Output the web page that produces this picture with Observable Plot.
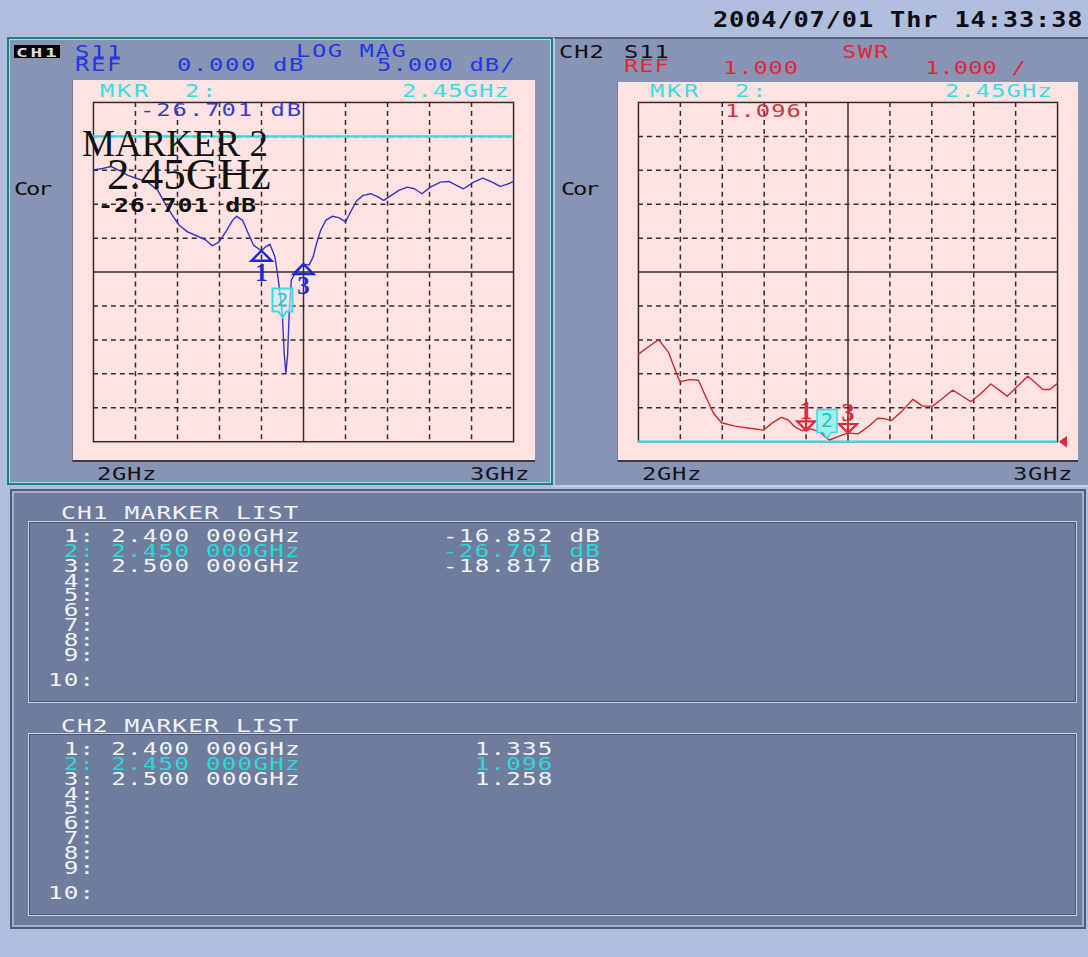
<!DOCTYPE html>
<html><head><meta charset="utf-8">
<script src="https://cdn.jsdelivr.net/npm/d3@7"></script>
<script src="https://cdn.jsdelivr.net/npm/@observablehq/plot@0.6"></script>
<style>
html,body{margin:0;padding:0}
body{width:1088px;height:957px;position:relative;overflow:hidden;background:#b0bede;font-family:"DejaVu Sans Mono",monospace}
.t{position:absolute;white-space:pre;transform-origin:0 0}
.b{position:absolute;box-sizing:border-box}
</style></head><body>
<script>
// ---------- DATA ----------
const timeStamp = "2004/07/01 Thr 14:33:38";
const startLabel = "2GHz", stopLabel = "3GHz";
const markerIds = [1, 2, 3];
const activeMarker = 2;
const markerFreq = [2.40, 2.45, 2.50];
const markerFreqText = ["2.400 000GHz", "2.450 000GHz", "2.500 000GHz"];
const ch1MarkerDb = [-16.852, -26.701, -18.817];
const ch2MarkerSwr = [1.335, 1.096, 1.258];

const gridFreq = [2.0, 2.1, 2.2, 2.3, 2.4, 2.5, 2.6, 2.7, 2.8, 2.9, 3.0];
const ch1GridDb = [5, 0, -5, -10, -15, -20, -25, -30, -35, -40, -45];
const ch2GridSwr = [1, 2, 3, 4, 5, 6, 7, 8, 9, 10, 11];
const ch1RefDb = 0;
const ch2RefSwr = 1;

const ch1Header = {ch: "CH1", param: "S11", format: "LOG MAG", ref: "REF", refVal: "0.000 dB", scale: "5.000 dB/"};
const ch2Header = {ch: "CH2", param: "S11", format: "SWR", ref: "REF", refVal: "1.000", scale: "1.000 /"};

const freqCh1 = [2.000, 2.018, 2.042, 2.062, 2.082, 2.105, 2.129, 2.153, 2.173, 2.188, 2.204, 2.224, 2.248, 2.268, 2.283, 2.299, 2.315, 2.331, 2.341, 2.355, 2.367, 2.381, 2.400, 2.410, 2.420, 2.432, 2.439, 2.446, 2.450, 2.454, 2.458, 2.462, 2.466, 2.471, 2.481, 2.500, 2.513, 2.523, 2.531, 2.541, 2.553, 2.568, 2.584, 2.600, 2.612, 2.626, 2.642, 2.660, 2.675, 2.691, 2.709, 2.727, 2.747, 2.764, 2.782, 2.802, 2.826, 2.846, 2.864, 2.881, 2.905, 2.927, 2.949, 2.968, 2.984, 3.000];
const dbCh1 = [-4.93, -4.78, -4.44, -5.03, -5.76, -6.25, -6.74, -7.96, -10.17, -11.63, -13.10, -14.08, -14.72, -15.30, -16.14, -15.55, -14.08, -12.37, -11.78, -12.37, -14.08, -16.04, -16.85, -16.28, -15.89, -17.75, -20.68, -24.11, -26.70, -31.94, -34.87, -32.43, -26.07, -21.17, -20.10, -18.82, -18.97, -17.75, -15.79, -13.84, -12.37, -11.78, -11.98, -12.61, -11.14, -9.53, -8.70, -8.45, -8.85, -9.43, -8.70, -7.96, -7.48, -7.72, -8.45, -7.48, -6.74, -6.64, -7.23, -7.72, -6.74, -6.15, -6.74, -7.38, -7.08, -6.64];

const freqCh2 = [2.000, 2.024, 2.048, 2.071, 2.085, 2.099, 2.111, 2.123, 2.143, 2.159, 2.179, 2.198, 2.230, 2.270, 2.298, 2.318, 2.341, 2.357, 2.373, 2.390, 2.400, 2.412, 2.433, 2.450, 2.456, 2.476, 2.500, 2.524, 2.548, 2.571, 2.587, 2.603, 2.627, 2.655, 2.678, 2.702, 2.726, 2.750, 2.773, 2.793, 2.817, 2.841, 2.861, 2.880, 2.905, 2.929, 2.945, 2.965, 2.981, 3.000];
const swrCh2 = [3.58, 3.80, 4.01, 3.65, 3.20, 2.76, 2.80, 2.83, 2.81, 2.37, 1.84, 1.56, 1.46, 1.39, 1.34, 1.54, 1.72, 1.64, 1.44, 1.33, 1.335, 1.38, 1.29, 1.096, 1.05, 1.15, 1.258, 1.23, 1.44, 1.69, 1.68, 1.62, 1.88, 2.25, 2.05, 2.05, 2.28, 2.52, 2.34, 2.18, 2.42, 2.70, 2.52, 2.34, 2.64, 2.93, 2.76, 2.54, 2.54, 2.72];

// ---------- STYLE ----------
const C = {
  blue: "#2038e6", trace1: "#3434c4", mkr1: "#1c2cd4", cyan: "#38dede", red: "#e0283a",
  trace2: "#cc2a30", grid: "#3a2a2a", pink: "#ffe2e2", panel: "#8794b4", list: "#6f7d9c",
  white: "#f2f3fa", listCyan: "#2ad8da", dark: "#141420"
};
const FONT = {
  mono: {family: "'DejaVu Sans Mono'", asc: 0.928, desc: 0.236, cap: 0.729, adv: 0.602},
  serif: {family: "'Liberation Serif'", asc: 0.891, desc: 0.216, cap: 0.655, adv: 0}
};

const body = document.body;
function box(x, y, w, h, css) {
  const d = document.createElement("div");
  d.className = "b";
  Object.assign(d.style, {left: x + "px", top: y + "px", width: w + "px", height: h + "px"}, css || {});
  body.appendChild(d);
  return d;
}
// place a text so that its capital letters start at y = cap
function txt(s, o) {
  const f = o.font ?? FONT.mono;
  const size = o.size ?? 17, sx = o.sx ?? 1.4, L = o.lh ?? 0.76;
  const capOffset = (L - (f.asc + f.desc)) / 2 + f.asc - f.cap;
  const d = document.createElement("div");
  d.className = "t";
  d.textContent = s;
  const ls = o.pitch ? (o.pitch / sx - f.adv * size) : 0;
  Object.assign(d.style, {
    left: o.x + "px", top: (o.cap - capOffset * size) + "px", fontSize: size + "px", lineHeight: L,
    color: o.color ?? "#000", fontFamily: f.family,
    fontWeight: o.weight ?? "normal", letterSpacing: ls + "px", transform: `scaleX(${sx})`
  });
  body.appendChild(d);
  return d;
}

// ---------- PANELS ----------
box(7, 37, 546, 448, {background: C.panel, border: "2px solid #1f8088", boxShadow: "inset 0 0 0 1px #a6dde0"});
box(553, 37, 535, 450, {background: C.panel, borderTop: "2px solid #56637e", borderLeft: "2px solid #b9c5e2", borderBottom: "2px solid #c2cde8"});
box(10, 489, 1076, 440, {background: C.list, border: "2px solid #4f5c78", boxShadow: "inset 0 0 0 2px #a3afcc"});
box(28, 521, 1049, 182, {border: "1px solid #c6d0ea", boxShadow: "inset 0 0 0 1px #4a5774"});
box(28, 733, 1049, 183, {border: "1px solid #c6d0ea", boxShadow: "inset 0 0 0 1px #4a5774"});

// timestamp
txt(timeStamp, {x: 713, cap: 12, size: 22, weight: "bold", sx: 1.15, pitch: 16.1, color: "#0c0c14"});

// ---------- CH1 header ----------
box(14, 45, 46, 13, {background: "#050505"});
txt(ch1Header.ch, {x: 16, cap: 47.5, size: 13, weight: "bold", sx: 1.5, pitch: 14.5, color: "#dcdcdc"});
txt(ch1Header.param, {x: 75, cap: 46, pitch: 16, color: C.blue});
txt(ch1Header.format, {x: 296, cap: 45, pitch: 15.9, color: C.blue});
txt(ch1Header.ref, {x: 75, cap: 59, pitch: 16, color: C.blue});
txt(ch1Header.refVal, {x: 177, cap: 59, pitch: 16, color: C.blue});
txt(ch1Header.scale, {x: 377, cap: 59, pitch: 15.4, color: C.blue});
txt("Cor", {x: 14, cap: 183, pitch: 12, color: "#101010"});

// ---------- CH2 header ----------
txt(ch2Header.ch, {x: 559, cap: 46, pitch: 15.3, color: "#101018"});
txt(ch2Header.param, {x: 624, cap: 46, pitch: 15.3, color: "#101018"});
txt(ch2Header.format, {x: 842, cap: 46, pitch: 16, color: C.red});
txt(ch2Header.ref, {x: 624, cap: 60, pitch: 15.3, color: C.red});
txt(ch2Header.refVal, {x: 723, cap: 62, pitch: 15.2, color: C.red});
txt(ch2Header.scale, {x: 925, cap: 62, pitch: 14.4, color: C.red});
txt("Cor", {x: 561, cap: 183, pitch: 12, color: "#101010"});

// ---------- PLOTS ----------
const mid = a => a[(a.length - 1) / 2];
const inner = a => a.slice(1, -1).filter(v => v !== mid(a));

const triUp = {draw(ctx) { ctx.moveTo(0, 0); ctx.lineTo(10, 10); ctx.lineTo(-10, 10); ctx.closePath(); }};
const triDown = {draw(ctx) { ctx.moveTo(0, 0); ctx.lineTo(-9, -9); ctx.lineTo(9, -9); ctx.closePath(); ctx.moveTo(0, -9); ctx.lineTo(0, 0); }};
const activeBox = {draw(ctx) { ctx.moveTo(-10, -29); ctx.lineTo(10, -29); ctx.lineTo(10, -6); ctx.lineTo(4, -6); ctx.lineTo(0, 0); ctx.lineTo(-4, -6); ctx.lineTo(-10, -6); ctx.closePath(); }};
const refArrow = {draw(ctx) { ctx.moveTo(2, 0); ctx.lineTo(9, -5); ctx.lineTo(9, 5); ctx.closePath(); }};

function gridMarks(yGrid) {
  return [
    Plot.ruleX(inner(gridFreq), {x: d => d, stroke: C.grid, strokeWidth: 1.5, strokeDasharray: "5,4"}),
    Plot.ruleY(inner(yGrid), {y: d => d, stroke: C.grid, strokeWidth: 1.5, strokeDasharray: "5,4"}),
    Plot.ruleX([mid(gridFreq)], {x: d => d, stroke: C.grid, strokeWidth: 1.5}),
    Plot.ruleY([mid(yGrid)], {y: d => d, stroke: C.grid, strokeWidth: 1.5}),
    Plot.frame({stroke: C.grid, strokeWidth: 1.5})
  ];
}

function pinkArea(x, y, w, h) {
  return box(x, y, w, h, {background: C.pink, borderLeft: "1px solid #7a7a8a", borderBottom: "2px solid #3c3c48"});
}

// CH1
const ch1Trace = freqCh1.map((f, i) => ({f, v: dbCh1[i]}));
const ch1Markers = markerIds.map((id, i) => ({id, f: markerFreq[i], v: ch1MarkerDb[i]}));
const ch1Passive = ch1Markers.filter(m => m.id !== activeMarker);
const ch1Active = ch1Markers.filter(m => m.id === activeMarker);
const p1 = Plot.plot({
  width: 463, height: 382, marginLeft: 20, marginRight: 22, marginTop: 22, marginBottom: 20,
  x: {domain: [gridFreq[0], gridFreq[gridFreq.length - 1]], axis: null},
  y: {domain: [ch1GridDb[ch1GridDb.length - 1], ch1GridDb[0]], axis: null},
  style: {background: "transparent", overflow: "visible"},
  marks: [
    ...gridMarks(ch1GridDb),
    Plot.ruleY([ch1RefDb], {y: d => d, stroke: C.cyan, strokeWidth: 2.2}),
    Plot.line(ch1Trace, {x: "f", y: "v", stroke: C.trace1, strokeWidth: 1.4}),
    Plot.dot(ch1Passive, {x: "f", y: "v", symbol: triUp, stroke: C.mkr1, strokeWidth: 2.4, fill: "none"}),
    Plot.text(ch1Passive, {x: "f", y: "v", text: d => String(d.id), dy: 22, fill: C.mkr1, fontFamily: "Liberation Serif", fontWeight: "bold", fontSize: 25}),
    Plot.dot(ch1Active, {x: "f", y: "v", symbol: activeBox, stroke: C.cyan, strokeWidth: 2, fill: "#c4f4f2", fillOpacity: 0.6}),
    Plot.text(ch1Active, {x: "f", y: "v", text: d => String(d.id), dy: -17.5, fill: "#26c8cc", fontFamily: "DejaVu Sans", fontSize: 18})
  ]
});
const pink1 = pinkArea(72, 80, 463, 382);
p1.style.position = "absolute"; p1.style.left = "0px"; p1.style.top = "0px";
pink1.appendChild(p1);

// CH2
const ch2Trace = freqCh2.map((f, i) => ({f, v: swrCh2[i]}));
const ch2Markers = markerIds.map((id, i) => ({id, f: markerFreq[i], v: ch2MarkerSwr[i]}));
const ch2Passive = ch2Markers.filter(m => m.id !== activeMarker);
const ch2Active = ch2Markers.filter(m => m.id === activeMarker);
const p2 = Plot.plot({
  width: 461, height: 380, marginLeft: 20, marginRight: 21, marginTop: 20, marginBottom: 20,
  x: {domain: [gridFreq[0], gridFreq[gridFreq.length - 1]], axis: null},
  y: {domain: [ch2GridSwr[0], ch2GridSwr[ch2GridSwr.length - 1]], axis: null},
  style: {background: "transparent", overflow: "visible"},
  marks: [
    ...gridMarks(ch2GridSwr),
    Plot.ruleY([ch2RefSwr], {y: d => d, stroke: C.cyan, strokeWidth: 2.2}),
    Plot.dot([{f: gridFreq[gridFreq.length - 1], v: ch2RefSwr}], {x: "f", y: "v", symbol: refArrow, fill: C.red, stroke: C.red, strokeWidth: 1}),
    Plot.line(ch2Trace, {x: "f", y: "v", stroke: C.trace2, strokeWidth: 1.4}),
    Plot.dot(ch2Passive, {x: "f", y: "v", symbol: triDown, stroke: C.red, strokeWidth: 2.2, fill: "none"}),
    Plot.text(ch2Passive, {x: "f", y: "v", text: d => String(d.id), dy: -20, fill: C.red, fontFamily: "Liberation Serif", fontWeight: "bold", fontSize: 26}),
    Plot.dot(ch2Active, {x: "f", y: "v", symbol: activeBox, stroke: C.cyan, strokeWidth: 1.5, fill: "#a6eeee"}),
    Plot.text(ch2Active, {x: "f", y: "v", text: d => String(d.id), dy: -17.5, fill: "#22c4cc", fontFamily: "DejaVu Sans", fontSize: 19})
  ]
});
const pink2 = pinkArea(617, 82, 461, 380);
p2.style.position = "absolute"; p2.style.left = "0px"; p2.style.top = "0px";
pink2.appendChild(p2);

// ---------- Marker readouts ----------
const ai = markerIds.indexOf(activeMarker);
const activeFreqText = markerFreq[ai].toFixed(2) + "GHz";
txt(`MKR  ${activeMarker}:`, {x: 100, cap: 85, pitch: 17, color: C.cyan});
txt(activeFreqText, {x: 402, cap: 85, pitch: 15.4, color: C.cyan});
txt(`${ch1MarkerDb[ai].toFixed(3)} dB`, {x: 140, cap: 104, pitch: 16.3, color: "#3a3ad0"});
txt(`MKR  ${activeMarker}:`, {x: 650, cap: 85, pitch: 17, color: C.cyan});
txt(activeFreqText, {x: 945, cap: 85, pitch: 15.4, color: C.cyan});
txt(ch2MarkerSwr[ai].toFixed(3), {x: 725, cap: 105, pitch: 15.4, color: "#d83040"});

// big marker annotation
txt(`MARKER ${activeMarker}`, {x: 82, cap: 133, size: 37, sx: 1, font: FONT.serif, lh: 0.72, color: "#111"});
txt(activeFreqText, {x: 107, cap: 160, size: 45, sx: 1, font: FONT.serif, lh: 0.7, color: "#111"});
txt(`${ch1MarkerDb[ai].toFixed(3)} dB`, {x: 98, cap: 198, size: 20, weight: "bold", sx: 1.25, pitch: 15.9, color: "#111"});

// start / stop
txt(startLabel, {x: 97, cap: 468, pitch: 15, color: C.dark});
txt(stopLabel, {x: 470, cap: 468, pitch: 15, color: C.dark});
txt(startLabel, {x: 642, cap: 468, pitch: 15, color: C.dark});
txt(stopLabel, {x: 1013, cap: 468, pitch: 15, color: C.dark});

// ---------- Marker lists ----------
function markerList(title, values, fmt, yOff) {
  txt(title, {x: 61, cap: 507 + yOff, size: 17.5, pitch: 15.9, color: C.white});
  for (let n = 1; n <= 10; n++) {
    const i = n - 1;
    let s = String(n).padStart(2) + ":";
    if (i < values.length) s += " " + markerFreqText[i] + " ".repeat(9) + fmt(values[i]);
    const cap = 529 + yOff + i * 14.8 + (n === 10 ? 11 : 0);
    txt(s, {x: 48, cap, size: 18, sx: 1.35, pitch: 15.8, lh: 0.74, color: markerIds[i] === activeMarker ? C.listCyan : C.white});
  }
}
markerList("CH1 MARKER LIST", ch1MarkerDb, v => v.toFixed(3).padStart(7) + " dB", 0);
markerList("CH2 MARKER LIST", ch2MarkerSwr, v => v.toFixed(3).padStart(7), 213);
</script>
</body></html>
